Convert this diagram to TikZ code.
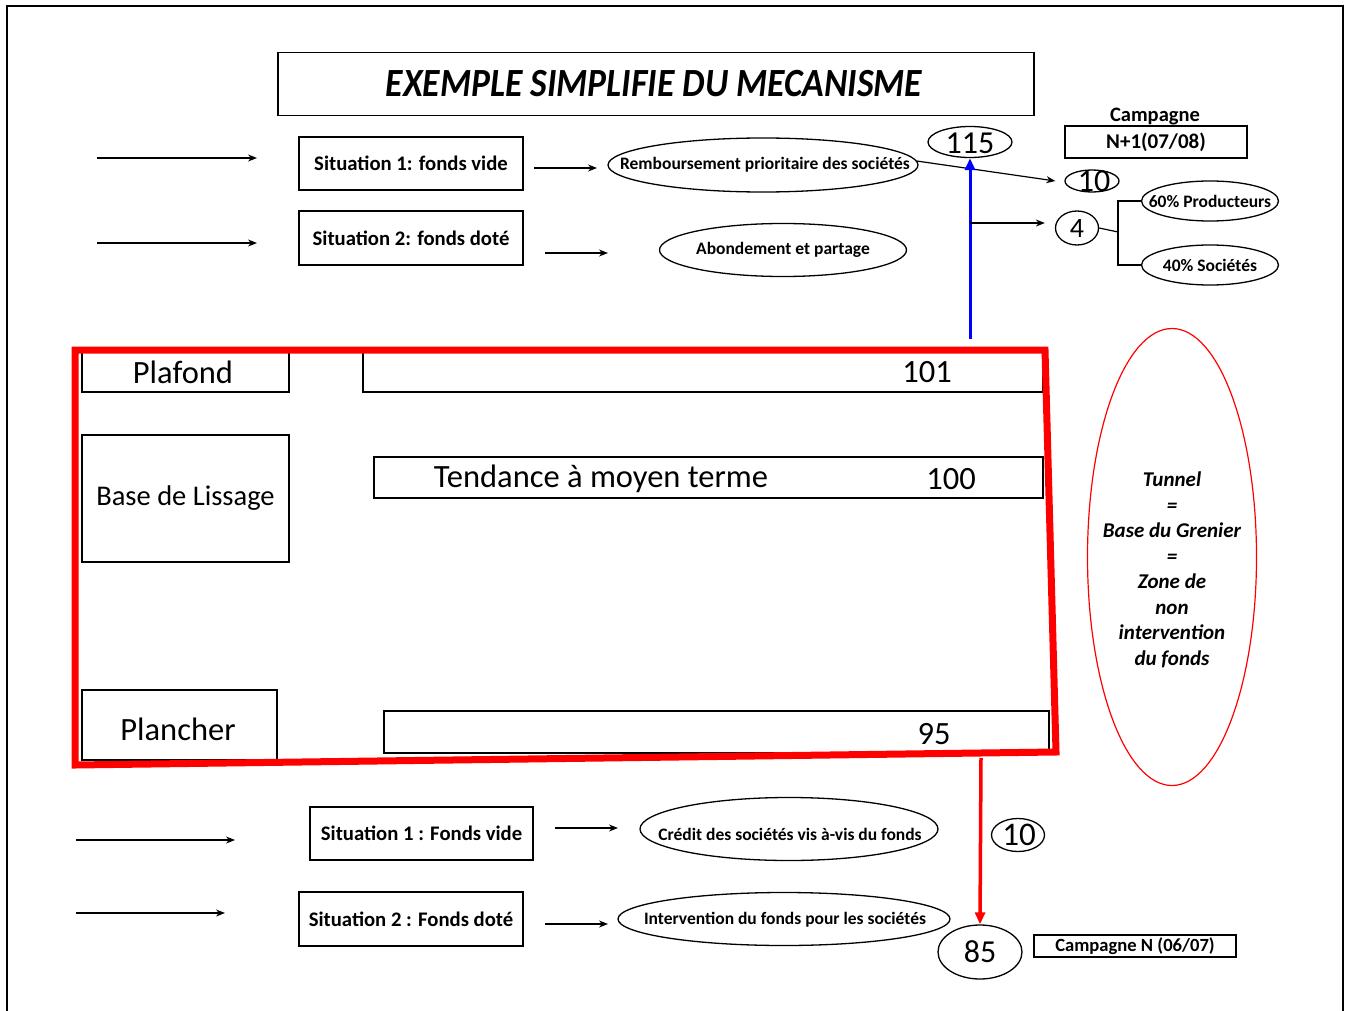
\documentclass[tikz,border=0pt]{standalone}
\usepackage{fontspec}
\setmainfont{Carlito}
\usetikzlibrary{shapes.geometric,arrows.meta}
\tikzset{
  box/.style={draw, line width=1.3pt, inner sep=0pt},
  ell/.style={draw, ellipse, line width=1.3pt, inner sep=0pt},
  arr/.style={line width=1.2pt, -{Stealth[length=9pt,width=7pt]}},
  ln/.style={line width=1.2pt},
  fs/.style={font=\fontsize{#1}{#1}\selectfont},
  bfs/.style={font=\fontsize{#1}{#1}\selectfont\bfseries},
  bis/.style={font=\fontsize{#1}{#1}\selectfont\bfseries\itshape},
}
\begin{document}
\begin{tikzpicture}[x=1pt,y=-1pt]
\useasboundingbox (0,0) rectangle (1349,1011);
% outer frame
\draw[line width=2pt] (7,1011) -- (7,6) -- (1343,6) -- (1343,1011);
% title
\node[box, minimum width=756pt, minimum height=63pt] (title) at (656,84) {};
\node[bis=40] (titlet) at (654,84) {\scalebox{0.89}[1]{EXEMPLE SIMPLIFIE DU MECANISME}};
% top situations
\coordinate (la1) at (97,158); \coordinate (lb1) at (257,158);
\coordinate (la2) at (97,243); \coordinate (lb2) at (257,243);
\draw[arr] (la1) -- (lb1);
\draw[arr] (la2) -- (lb2);
\node[box, minimum width=224pt, minimum height=53pt, bfs=20.7] (s1) at (411,163.5) {Situation 1: fonds vide};
\node[box, minimum width=224pt, minimum height=54pt, bfs=20.7] (s2) at (411,238) {Situation 2: fonds doté};
\coordinate (a1s) at (534,168); \coordinate (a1e) at (597,168);
\coordinate (a2s) at (545,253); \coordinate (a2e) at (608,253);
\draw[arr] (a1s) -- (a1e);
\draw[arr] (a2s) -- (a2e);
\node[ell, minimum width=310pt, minimum height=54pt] (remb) at (763,165) {};
\node[bfs=17.5] (rembt) at (765,165) {Remboursement prioritaire des sociétés};
\node[ell, minimum width=247pt, minimum height=53pt] (abon) at (783,250) {};
\node[bfs=17.5] (abont) at (783,250) {Abondement et partage};
\node[ell, minimum width=84pt, minimum height=31pt] (n115) at (970,142) {};
\node[fs=32] (n115t) at (970,143) {115};
\node[ell, minimum width=54pt, minimum height=22pt] (n10a) at (1092,181) {};
\node[fs=32] (n10at) at (1094,181) {10};
\draw[arr] ([xshift=-2pt,yshift=4pt]remb.east) -- ([xshift=-9pt]n10a.west);
% blue arrow
\coordinate (bstart) at (970,339);
\draw[line width=3pt, blue, -{Triangle[length=12pt,width=10pt]}] (bstart) -- (n115.south);
\node[ell, minimum width=43pt, minimum height=34pt] (n4) at (1077,228) {};
\node[fs=28] (n4t) at (1077,229) {4};
\coordinate (br) at (970,223);
\draw[arr, shorten >=10pt] (br) -- (br -| n4.west);
\node[ell, minimum width=137pt, minimum height=40pt] (p60) at (1210,201) {};
\node[bfs=17.5] (p60t) at (1210,201) {60\% Producteurs};
\node[ell, minimum width=137pt, minimum height=40pt] (p40) at (1210,265) {};
\node[bfs=17.5] (p40t) at (1210,265) {40\% Sociétés};
\coordinate (fork) at (1118,232);
\draw[ln] (n4.east) -- (fork);
\draw[ln] (p60.west) -| (fork) |- (p40.west);
\node[bfs=20.5] (camp) at (1155,117) {Campagne};
\node[box, minimum width=182pt, minimum height=32pt, bfs=21] (n1) at (1156,142) {N+1(07/08)};
% inner boxes
\node[box, minimum width=207pt, minimum height=42pt] (plaf) at (185.5,371) {};
\node[fs=32.5] (plaft) at (183,372) {Plafond};
\node[box, minimum width=680pt, minimum height=42pt] (b101) at (703,371) {};
\node[fs=32.5] (t101) at (927,372) {101};
\node[box, minimum width=207pt, minimum height=127pt, fs=28.5] (base) at (185.5,498.5) {Base de Lissage};
\node[box, minimum width=669pt, minimum height=41pt] (tend) at (708.5,477.5) {};
\node[fs=32.5] (tendt) at (601,479) {Tendance à moyen terme};
\node[fs=32.5] (t100) at (951,479) {100};
\node[box, minimum width=195pt, minimum height=70pt] (planc) at (179.5,725) {};
\node[fs=32.5] (planct) at (178,729) {Plancher};
\node[box, minimum width=665pt, minimum height=42pt] (b95) at (716.5,732) {};
\node[fs=32.5] (t95) at (934,734) {95};
% red frame
\draw[red, line width=7pt, line join=miter] (75,350) -- (1045,350) -- (1056,752) -- (75,765) -- cycle;
% tunnel ellipse
\node[draw=red, ellipse, line width=1.2pt, minimum width=169pt, minimum height=457pt, inner sep=0pt] (tunnel) at (1172,557) {};
\node[bis=21, align=center] (tunnelt) at (1172,570) {Tunnel\\[4.5pt]=\\[4.5pt]Base du Grenier\\[4.5pt]=\\[4.5pt]Zone de\\[4.5pt]non\\[4.5pt]intervention\\[4.5pt]du fonds};
% red arrow
\coordinate (rstart) at (981,758);
\node[ell, minimum width=84pt, minimum height=54pt] (n85) at (980,952) {};
\node[fs=32] (n85t) at (980,952) {85};
\draw[red, line width=3.5pt, -{Triangle[length=12pt,width=10pt]}] (rstart) -- (n85.north);
\node[ell, minimum width=53pt, minimum height=33pt] (n10b) at (1018,835) {};
\node[fs=33] (n10bt) at (1019,835) {10};
\node[box, minimum width=202pt, minimum height=22pt, bfs=18.6] (campn) at (1135,946) {Campagne N (06/07)};
% bottom situations
\coordinate (la3) at (76,840); \coordinate (lb3) at (235,840);
\coordinate (la4) at (76,913); \coordinate (lb4) at (225,913);
\draw[arr] (la3) -- (lb3);
\draw[arr] (la4) -- (lb4);
\node[box, minimum width=223pt, minimum height=53pt, bfs=20.7] (s3) at (421.5,833.5) {Situation 1 : Fonds vide};
\node[box, minimum width=224pt, minimum height=54pt, bfs=20.7] (s4) at (411,919) {Situation 2 : Fonds doté};
\coordinate (a3s) at (555,828); \coordinate (a3e) at (618,828);
\coordinate (a4s) at (545,924); \coordinate (a4e) at (608,924);
\draw[arr] (a3s) -- (a3e);
\draw[arr] (a4s) -- (a4e);
\node[ell, minimum width=298pt, minimum height=63pt] (cred) at (789,829) {};
\node[bfs=17.5] (credt) at (790,834) {Crédit des sociétés vis à-vis du fonds};
\node[ell, minimum width=332pt, minimum height=53pt] (interv) at (784,919) {};
\node[bfs=17.5] (intervt) at (785,920) {Intervention du fonds pour les sociétés};
\end{tikzpicture}
\end{document}
